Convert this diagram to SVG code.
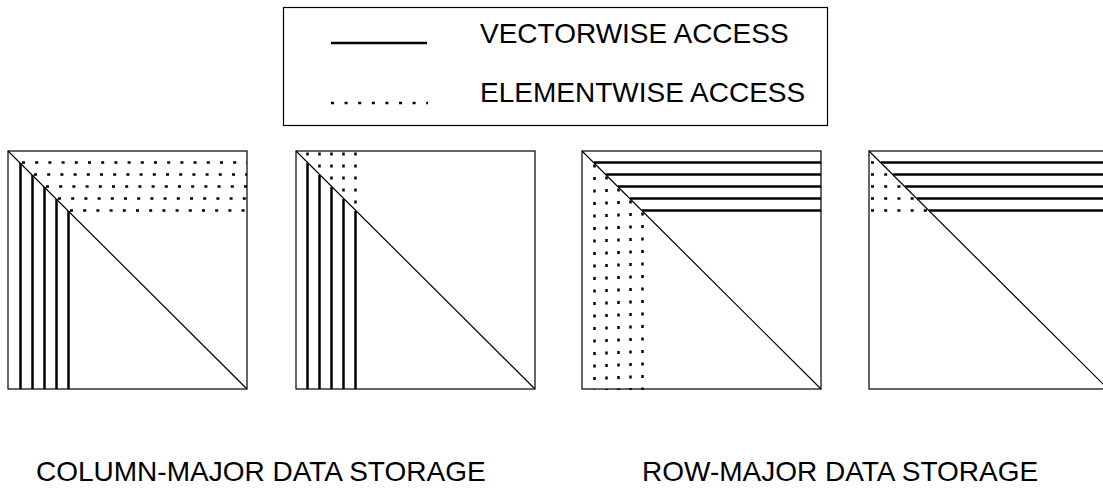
<svg xmlns="http://www.w3.org/2000/svg" width="1103" height="489" viewBox="0 0 1103 489">
<style>
.box{fill:none;stroke:#000;stroke-width:1.2}
.diag{stroke:#000;stroke-width:1.2}
.vec{stroke:#000;stroke-width:2.5;fill:none}
.elh{stroke:#000;stroke-width:2.5;stroke-dasharray:3 10.2;fill:none}
.elv{stroke:#000;stroke-width:2.5;stroke-dasharray:3 9.5;fill:none}
.elv2{stroke:#000;stroke-width:2.5;stroke-dasharray:3 9;fill:none}
.lbl{font-family:"Liberation Sans",Arial,sans-serif;font-size:28px;fill:#000}
</style>
<rect width="1103" height="489" fill="#fff"/>
<g id="legend">
<rect class="box" x="283.5" y="7.5" width="544" height="118"/>
<line class="vec" x1="331" y1="43" x2="427" y2="43"/>
<line class="elh" x1="331" y1="103" x2="428" y2="103" style="stroke-dasharray:3 10.6"/>
<text class="lbl" x="480" y="43">VECTORWISE ACCESS</text>
<text class="lbl" x="480" y="102">ELEMENTWISE ACCESS</text>
</g>
<g id="matrix-col-1">
<rect class="box" x="8" y="151" width="239" height="238"/>
<line class="diag" x1="8" y1="151" x2="247" y2="389"/>
<line class="vec" x1="20.5" y1="163" x2="20.5" y2="389"/>
<line class="vec" x1="32.5" y1="175" x2="32.5" y2="389"/>
<line class="vec" x1="44.5" y1="187" x2="44.5" y2="389"/>
<line class="vec" x1="56.5" y1="199" x2="56.5" y2="389"/>
<line class="vec" x1="68.5" y1="211" x2="68.5" y2="389"/>
<line class="elh" x1="22" y1="162.5" x2="247" y2="162.5"/>
<line class="elh" x1="34" y1="174.5" x2="247" y2="174.5"/>
<line class="elh" x1="46" y1="186.5" x2="247" y2="186.5"/>
<line class="elh" x1="58" y1="198.5" x2="247" y2="198.5"/>
<line class="elh" x1="70" y1="210.5" x2="247" y2="210.5"/>
</g>
<g id="matrix-col-2">
<rect class="box" x="296" y="151" width="239" height="238"/>
<line class="diag" x1="296" y1="151" x2="535" y2="389"/>
<line class="vec" x1="307.5" y1="163" x2="307.5" y2="389"/>
<line class="vec" x1="319.5" y1="175" x2="319.5" y2="389"/>
<line class="vec" x1="331.5" y1="187" x2="331.5" y2="389"/>
<line class="vec" x1="343.5" y1="199" x2="343.5" y2="389"/>
<line class="vec" x1="355.5" y1="211" x2="355.5" y2="389"/>
<line class="elv2" x1="307.5" y1="152.5" x2="307.5" y2="161"/>
<line class="elv2" x1="319.5" y1="152.5" x2="319.5" y2="173"/>
<line class="elv2" x1="331.5" y1="152.5" x2="331.5" y2="185"/>
<line class="elv2" x1="343.5" y1="152.5" x2="343.5" y2="197"/>
<line class="elv2" x1="355.5" y1="152.5" x2="355.5" y2="209"/>
</g>
<g id="matrix-row-1">
<rect class="box" x="582" y="151" width="239" height="238"/>
<line class="diag" x1="582" y1="151" x2="821" y2="389"/>
<line class="vec" x1="594" y1="162.5" x2="821" y2="162.5"/>
<line class="vec" x1="606" y1="174.5" x2="821" y2="174.5"/>
<line class="vec" x1="618" y1="186.5" x2="821" y2="186.5"/>
<line class="vec" x1="630" y1="198.5" x2="821" y2="198.5"/>
<line class="vec" x1="642" y1="210.5" x2="821" y2="210.5"/>
<line class="elv" x1="594.5" y1="164.5" x2="594.5" y2="390"/>
<line class="elv" x1="606.5" y1="176.5" x2="606.5" y2="390"/>
<line class="elv" x1="618.5" y1="188.5" x2="618.5" y2="390"/>
<line class="elv" x1="630.5" y1="200.5" x2="630.5" y2="390"/>
<line class="elv" x1="642.5" y1="212.5" x2="642.5" y2="390"/>
</g>
<g id="matrix-row-2">
<rect class="box" x="869" y="151" width="239" height="238"/>
<line class="diag" x1="869" y1="151" x2="1108" y2="389"/>
<line class="vec" x1="881" y1="162.5" x2="1108" y2="162.5"/>
<line class="vec" x1="893" y1="174.5" x2="1108" y2="174.5"/>
<line class="vec" x1="905" y1="186.5" x2="1108" y2="186.5"/>
<line class="vec" x1="917" y1="198.5" x2="1108" y2="198.5"/>
<line class="vec" x1="929" y1="210.5" x2="1108" y2="210.5"/>
<line class="elh" x1="871" y1="162.5" x2="879" y2="162.5"/>
<line class="elh" x1="871" y1="174.5" x2="891" y2="174.5"/>
<line class="elh" x1="871" y1="186.5" x2="903" y2="186.5"/>
<line class="elh" x1="871" y1="198.5" x2="915" y2="198.5"/>
<line class="elh" x1="871" y1="210.5" x2="927" y2="210.5"/>
</g>
<g id="labels">
<text class="lbl" x="36" y="481">COLUMN-MAJOR DATA STORAGE</text>
<text class="lbl" x="642" y="481">ROW-MAJOR DATA STORAGE</text>
</g>
</svg>
